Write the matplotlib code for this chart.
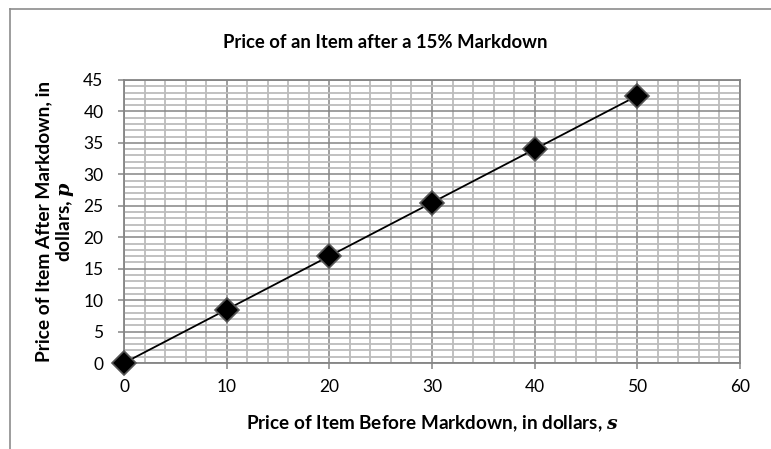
import matplotlib
matplotlib.use("Agg")
import matplotlib.pyplot as plt
from matplotlib.ticker import MultipleLocator
from matplotlib.lines import Line2D

before_price = [0, 10, 20, 30, 40, 50]
after_price = [0, 8.5, 17, 25.5, 34, 42.5]
x_ticks = [0, 10, 20, 30, 40, 50, 60]
y_ticks = [0, 5, 10, 15, 20, 25, 30, 35, 40, 45]

plt.rcParams['font.family'] = ['Lato', 'DejaVu Sans']
plt.rcParams['mathtext.fontset'] = 'custom'
plt.rcParams['mathtext.it'] = 'DejaVu Serif:italic:bold'
plt.rcParams['mathtext.rm'] = 'Lato'

fig = plt.figure(figsize=(7.71, 4.49), dpi=100)
ax = fig.add_axes([124/771, 1-363/449, (740-124)/771, (363-80)/449])

ax.set_xlim(0, 60)
ax.set_ylim(0, 45)
ax.set_xticks(x_ticks)
ax.set_yticks(y_ticks)
ax.xaxis.set_minor_locator(MultipleLocator(2))
ax.yaxis.set_minor_locator(MultipleLocator(1))
ax.grid(which='minor', color='#bcbcbc', linewidth=1.3)
ax.grid(which='major', color='#858585', linewidth=1.1)
ax.set_axisbelow(True)
for s in ax.spines.values():
    s.set_color('#858585')
    s.set_linewidth(1.3)
ax.tick_params(which='major', direction='out', length=4.3, color='#858585', width=1.1,
               labelsize=12.5)
ax.tick_params(axis='y', pad=10.5)
ax.tick_params(axis='x', pad=7.5)
ax.tick_params(which='minor', length=0)

ax.plot(before_price, after_price, color='black', linewidth=1.3, marker='D',
        markersize=12.5, markerfacecolor='black', markeredgecolor='#555555',
        markeredgewidth=1.2, clip_on=False, zorder=5)

fig.text(385/771, 1-42/449, 'Price of an Item after a 15% Markdown', fontsize=13.3,
         fontweight='bold', ha='center', va='center')
ax.set_xlabel(r'Price of Item Before Markdown, in dollars, $s$', fontsize=13.6,
              fontweight='bold', labelpad=13)
ax.set_ylabel('Price of Item After Markdown, in\n' + r'dollars, $p$', fontsize=13.8,
              fontweight='bold', labelpad=5, linespacing=1.1)

fig.add_artist(Line2D([10/771, 1.0], [1-9/449, 1-9/449], transform=fig.transFigure,
                      color='#8c8c8c', linewidth=1.2))
fig.add_artist(Line2D([10/771, 10/771], [1-9/449, 0], transform=fig.transFigure,
                      color='#8c8c8c', linewidth=1.2))

fig.savefig('out.png', dpi=100)
